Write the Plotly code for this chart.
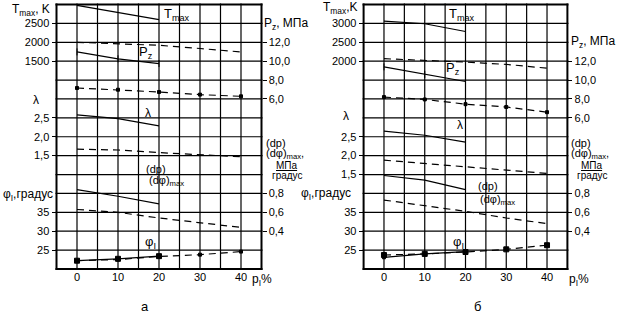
import plotly.graph_objects as go

# ---------------- data ----------------
x5 = [0, 10, 20, 30, 40]
x3 = [0, 10, 20]

# panel а
a_T_solid = [2975, 2790, 2600]
a_T_dash = [2000, 1965, 1920, 1835, 1745]
a_Pz_solid = [10.98, 10.25, 9.75]
a_Pz_dash = [7.16, 6.98, 6.74, 6.46, 6.28]
a_lam_solid = [2.58, 2.48, 2.29]
a_lam_dash = [1.67, 1.65, 1.58, 1.53, 1.47]
a_dp_solid = [0.84, 0.77, 0.69]
a_dp_dash = [0.63, 0.60, 0.54, 0.49, 0.44]
a_phi_solid = [22.2, 22.7, 23.4]
a_phi_dash = [22.2, 22.5, 23.3, 23.8, 24.6]

# panel б
b_T_solid = [3060, 2990, 2785]
b_T_dash = [2065, 2025, 1975, 1915, 1815]
b_Pz_solid = [11.4, 10.6, 9.85]
b_Pz_dash = [8.2, 7.95, 7.45, 7.15, 6.6]
b_lam_solid = [2.65, 2.54, 2.36]
b_lam_dash = [1.88, 1.79, 1.70, 1.62, 1.53]
b_dp_solid = [0.99, 0.94, 0.84]
b_dp_dash = [0.73, 0.67, 0.61, 0.54, 0.48]
b_phi_solid = [23.1, 24.0, 24.6]
b_phi_dash = [23.7, 24.0, 24.5, 25.2, 26.3]

x_ticks = [-5, 0, 5, 10, 15, 20, 25, 30, 35, 40, 45]
x_ticktext = ["", "0", "", "10", "", "20", "", "30", "", "40", ""]
N_ROWS = 14

T_ticks_a = [1500, 2000, 2500]
T_ticks_b = [2000, 2500, 3000]
Pz_ticks = [6, 8, 10, 12]
Pz_text = ["6,0", "8,0", "10,0", "12,0"]
lam_ticks = [1.5, 2.0, 2.5]
lam_text = ["1,5", "2,0", "2,5"]
phi_ticks = [25, 30, 35]
dp_ticks = [0.4, 0.6, 0.8]
dp_text = ["0,4", "0,6", "0,8"]

# axis ranges (each scale aligned to the common grid of 14 rows)
rng_a = dict(T=[-4000, 3000], Pz=[-12, 16], lam=[-1.5, 5.5], phi=[20, 90], dp=[0, 2.8])
rng_b = dict(T=[-3500, 3500], Pz=[-10, 18], lam=[-1.0, 6.0], phi=[20, 90], dp=[0, 2.8])

W, H = 625, 319
FONT = "Liberation Sans, Arial, sans-serif"
DASH = "7px,5px"

y_dom = [1 - 269 / H, 1 - 4.5 / H]
xa_dom = [56.5 / W, 261.5 / W]
xb_dom = [363.6 / W, 567.4 / W]

fig = go.Figure()

# invisible traces so that the base subplots exist
fig.add_trace(go.Scatter(x=[-5, 45], y=[0, 14], xaxis="x", yaxis="y", mode="markers",
                         marker=dict(opacity=0), showlegend=False, hoverinfo="skip"))
fig.add_trace(go.Scatter(x=[-5, 45], y=[0, 14], xaxis="x2", yaxis="y7", mode="markers",
                         marker=dict(opacity=0), showlegend=False, hoverinfo="skip"))


def add(xs, ys, xa, ya, dash=False, marker=None, msize=4, width=1.2):
    mode = "lines+markers" if marker else "lines"
    fig.add_trace(go.Scatter(
        x=xs, y=ys, xaxis=xa, yaxis=ya, mode=mode,
        line=dict(color="black", width=width, dash=DASH if dash else "solid"),
        marker=dict(symbol=marker or "square", size=msize, color="black",
                    line=dict(color="black", width=1)),
        showlegend=False, hoverinfo="skip"))


# panel а: x, y (base) ; y2 T, y3 Pz, y4 λ, y5 φ, y6 dp
add(x3, a_T_solid, "x", "y2")
add(x5, a_T_dash, "x", "y2", dash=True)
add(x3, a_Pz_solid, "x", "y3", marker="line-ns-open", msize=5)
add(x5, a_Pz_dash, "x", "y3", dash=True, marker="square", msize=3)
add(x3, a_lam_solid, "x", "y4")
add(x5, a_lam_dash, "x", "y4", dash=True)
add(x3, a_dp_solid, "x", "y6")
add(x5, a_dp_dash, "x", "y6", dash=True)
add(x3, a_phi_solid, "x", "y5", marker="square", msize=5)
add(x5, a_phi_dash, "x", "y5", dash=True, marker="square", msize=3)

# panel б: x2, y7 (base) ; y8 T, y9 Pz, y10 λ, y11 φ, y12 dp
add(x3, b_T_solid, "x2", "y8")
add(x5, b_T_dash, "x2", "y8", dash=True)
add(x3, b_Pz_solid, "x2", "y9", marker="line-ns-open", msize=5)
add(x5, b_Pz_dash, "x2", "y9", dash=True, marker="square", msize=3)
add(x3, b_lam_solid, "x2", "y10")
add(x5, b_lam_dash, "x2", "y10", dash=True)
add(x3, b_dp_solid, "x2", "y12")
add(x5, b_dp_dash, "x2", "y12", dash=True)
add(x3, b_phi_solid, "x2", "y11", marker="square", msize=3)
add(x5, b_phi_dash, "x2", "y11", dash=True, marker="square", msize=5)

tickfont = dict(family=FONT, size=11, color="black")


def xaxis(dom, anchor):
    return dict(domain=dom, anchor=anchor, range=[-5, 45], tickmode="array", tickvals=x_ticks,
                ticktext=x_ticktext, showgrid=False, showline=False,
                zeroline=False, ticks="", tickfont=tickfont, fixedrange=True)


def base_y(anchor):
    return dict(domain=y_dom, range=[0, N_ROWS], showticklabels=False, showgrid=False,
                showline=False, zeroline=False, ticks="", anchor=anchor, fixedrange=True)


def over_y(base, anchor, rng, vals, text, side):
    return dict(overlaying=base, anchor=anchor, side=side, range=rng, domain=y_dom,
                tickmode="array", tickvals=vals, ticktext=text,
                showgrid=False, zeroline=False, showline=False,
                ticks="outside", ticklen=4, tickcolor="black", tickwidth=1,
                tickfont=tickfont, fixedrange=True)


layout = dict(
    width=W, height=H, margin=dict(l=0, r=0, t=0, b=0),
    paper_bgcolor="white", plot_bgcolor="rgba(0,0,0,0)",
    xaxis=xaxis(xa_dom, "y"), xaxis2=xaxis(xb_dom, "y7"),
    yaxis=base_y("x"), yaxis7=base_y("x2"),
)

layout["yaxis2"] = over_y("y", "x", rng_a["T"], T_ticks_a, [str(v) for v in T_ticks_a], "left")
layout["yaxis3"] = over_y("y", "x", rng_a["Pz"], Pz_ticks, Pz_text, "right")
layout["yaxis4"] = over_y("y", "x", rng_a["lam"], lam_ticks, lam_text, "left")
layout["yaxis5"] = over_y("y", "x", rng_a["phi"], phi_ticks, [str(v) for v in phi_ticks], "left")
layout["yaxis6"] = over_y("y", "x", rng_a["dp"], dp_ticks, dp_text, "right")

layout["yaxis8"] = over_y("y7", "x2", rng_b["T"], T_ticks_b, [str(v) for v in T_ticks_b], "left")
layout["yaxis9"] = over_y("y7", "x2", rng_b["Pz"], Pz_ticks, Pz_text, "right")
layout["yaxis10"] = over_y("y7", "x2", rng_b["lam"], lam_ticks, lam_text, "left")
layout["yaxis11"] = over_y("y7", "x2", rng_b["phi"], phi_ticks, [str(v) for v in phi_ticks], "left")
layout["yaxis12"] = over_y("y7", "x2", rng_b["dp"], dp_ticks, dp_text, "right")

fig.update_layout(**layout)

# grid and frame: thin filled bars in paper coordinates, derived from the axis domains
shapes = []
x0r, x1r = x_ticks[0], x_ticks[-1]
for dom in (xa_dom, xb_dom):
    def xp(v, dom=dom):
        return dom[0] + (v - x0r) / (x1r - x0r) * (dom[1] - dom[0])

    def yp(r):
        return y_dom[0] + r / N_ROWS * (y_dom[1] - y_dom[0])

    for v in x_ticks:
        half = (1.0 if v in (x0r, x1r) else 0.6) / W
        shapes.append(dict(type="rect", xref="paper", yref="paper",
                           x0=xp(v) - half, x1=xp(v) + half,
                           y0=y_dom[0] - 1.0 / H, y1=y_dom[1] + 1.0 / H,
                           fillcolor="black", line=dict(width=0), layer="above"))
    for r in range(N_ROWS + 1):
        half = (1.0 if r in (0, N_ROWS) else 0.6) / H
        shapes.append(dict(type="rect", xref="paper", yref="paper",
                           x0=dom[0] - 1.0 / W, x1=dom[1] + 1.0 / W,
                           y0=yp(r) - half, y1=yp(r) + half,
                           fillcolor="black", line=dict(width=0), layer="above"))
fig.update_layout(shapes=shapes)

anns = []


def ann(text, px, py, xanchor="center", size=12):
    anns.append(dict(text=text, x=px / W, y=1 - py / H, xref="paper", yref="paper",
                     xanchor=xanchor, yanchor="middle", showarrow=False,
                     font=dict(family=FONT, size=size, color="black")))


# ---- panel а labels ----
ann("T<sub>max</sub>, K", 52, 10, "right")
ann("λ", 36, 100)
ann("φ<sub>I</sub>,градус", 55, 195, "right")
ann("P<sub>z</sub>, МПа", 262, 24, "left", 12)
ann("(dp)", 264, 143, "left", 11)
ann("(dφ)<sub>max</sub>,", 264, 154, "left", 11)
ann("<u>МПа</u>", 287, 165, "center", 10)
ann("градус", 287, 175, "center", 10)
ann("T<sub>max</sub>", 177, 14, "center", 13)
ann("P<sub>z</sub>", 146, 53, "center", 13)
ann("λ", 148, 113, "center", 12)
ann("(dp)", 156, 169, "center", 11)
ann("(dφ)<sub>max</sub>", 166, 181, "center", 11)
ann("φ<sub>I</sub>", 150, 242, "center", 13)
ann("р<sub>I</sub>%", 262, 280, "center", 12)
ann("а", 145, 306, "center", 13)

# ---- panel б labels ----
ann("T<sub>max</sub>,K", 360, 8, "right")
ann("λ", 346, 116)
ann("φ<sub>I</sub>,градус", 353, 194, "right")
ann("P<sub>z</sub>, МПа", 569, 42, "left", 12)
ann("(dp)", 569, 143, "left", 11)
ann("(dφ)<sub>max</sub>,", 569, 154, "left", 11)
ann("<u>МПа</u>", 592, 165, "center", 10)
ann("градус", 592, 175, "center", 10)
ann("T<sub>max</sub>", 462, 14, "center", 13)
ann("P<sub>z</sub>", 453, 68, "center", 13)
ann("λ", 460, 125, "center", 12)
ann("(dp)", 488, 186, "center", 11)
ann("(dφ)<sub>max</sub>", 497, 200, "center", 11)
ann("φ<sub>I</sub>", 458, 242, "center", 13)
ann("р<sub>I</sub>%", 579, 280, "center", 12)
ann("б", 477, 306, "center", 13)

fig.update_layout(annotations=anns)

fig.write_html("out.html", config={"displayModeBar": False},
               post_script="document.body.style.margin='0';document.body.style.overflow='hidden';")
